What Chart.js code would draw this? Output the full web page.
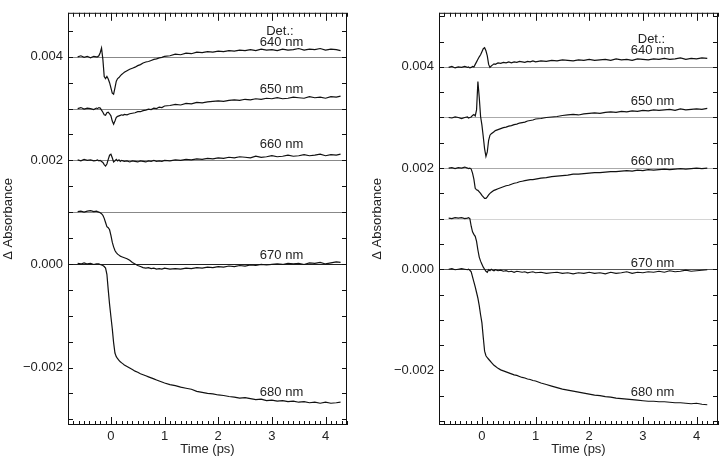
<!DOCTYPE html>
<html>
<head>
<meta charset="utf-8">
<title>Δ Absorbance traces</title>
<script src="https://cdn.jsdelivr.net/npm/chart.js@4.4.1/dist/chart.umd.min.js"></script>
<style>
  html, body { margin: 0; padding: 0; background: #fff; }
  .wrap { position: absolute; top: 0; width: 360px; height: 458px; }
  #leftWrap { left: 0; }
  #rightWrap { left: 360px; }
</style>
</head>
<body>
<div class="wrap" id="leftWrap"><canvas id="leftChart"></canvas></div>
<div class="wrap" id="rightWrap"><canvas id="rightChart"></canvas></div>
<script>
// time axis (ps), shared by every trace
const time = [
  -0.62, -0.56, -0.50, -0.44, -0.38, -0.32, -0.27,
  -0.25, -0.225, -0.20, -0.175, -0.15, -0.125, -0.10, -0.075, -0.05, -0.025, 0, 0.025, 0.05, 0.075, 0.10, 0.125, 0.15, 0.175, 0.20, 0.225, 0.25,
  0.30, 0.35, 0.40, 0.45, 0.50, 0.55, 0.60, 0.65, 0.70, 0.75, 0.80, 0.85, 0.90, 0.95, 1.00,
  1.1, 1.2, 1.3, 1.4, 1.5, 1.6, 1.7, 1.8, 1.9, 2.0, 2.1, 2.2, 2.3, 2.4, 2.5, 2.6, 2.7, 2.8, 2.9, 3.0,
  3.1, 3.2, 3.3, 3.4, 3.5, 3.6, 3.7, 3.8, 3.9, 4.0, 4.1, 4.2, 4.28
];

const wavelengths = ['640 nm', '650 nm', '660 nm', '670 nm', '680 nm'];
const baselines = [0.004, 0.003, 0.002, 0.001, 0.000];
const xTickValues = [0, 1, 2, 3, 4];
const yTickValues = [-0.002, 0, 0.002, 0.004];

// left panel, values in mOD (offset traces)
const left640 = [
  4.00, 4.02, 3.99, 4.01, 3.98, 4.01, 4.00,
  4.00, 4.02, 4.08, 4.17, 3.95, 3.62, 3.58, 3.62, 3.57, 3.50, 3.40, 3.30, 3.28, 3.40, 3.53, 3.58, 3.60, 3.63, 3.66, 3.68, 3.70,
  3.73, 3.76, 3.78, 3.80, 3.83, 3.85, 3.88, 3.90, 3.91, 3.93, 3.95, 3.96, 3.98, 3.99, 4.01,
  4.02, 4.05, 4.04, 4.07, 4.06, 4.09, 4.08, 4.10, 4.09, 4.11, 4.10, 4.12, 4.11, 4.13, 4.12, 4.14, 4.12, 4.15, 4.13, 4.14,
  4.12, 4.15, 4.13, 4.14, 4.16, 4.13, 4.15, 4.14, 4.16, 4.13, 4.15, 4.14, 4.12
];
const left650 = [
  3.00, 3.02, 2.99, 3.01, 3.00, 2.98, 3.01,
  3.00, 3.02, 3.01, 2.97, 2.93, 2.88, 2.87, 2.92, 2.93, 2.90, 2.86, 2.76, 2.70, 2.76, 2.83, 2.85, 2.86, 2.87, 2.88, 2.87, 2.89,
  2.88, 2.90, 2.91, 2.92, 2.94, 2.94, 2.96, 2.97, 2.99, 2.98, 3.01, 3.00, 3.03, 3.02, 3.05,
  3.06, 3.08, 3.07, 3.10, 3.09, 3.12, 3.11, 3.13, 3.14, 3.15, 3.14, 3.16, 3.17, 3.16, 3.18, 3.17, 3.19, 3.18, 3.20, 3.19,
  3.21, 3.19, 3.20, 3.22, 3.21, 3.20, 3.23, 3.21, 3.22, 3.20, 3.23, 3.22, 3.24
];
const left660 = [
  2.01, 1.99, 2.02, 2.00, 2.01, 1.99, 2.00,
  2.01, 1.99, 2.00, 1.98, 1.96, 1.92, 1.89, 1.93, 2.02, 2.10, 2.12, 2.05, 1.97, 1.99, 2.02, 1.99, 2.01, 1.98, 2.00, 1.99, 1.98,
  1.99, 1.97, 1.99, 1.98, 1.97, 1.99, 1.98, 1.97, 1.99, 1.98, 2.00, 1.98, 1.99, 1.98, 2.00,
  1.99, 2.01, 2.00, 2.02, 2.01, 2.03, 2.02, 2.04, 2.03, 2.05, 2.04, 2.06, 2.05, 2.07, 2.06, 2.05, 2.08, 2.06, 2.07, 2.09,
  2.07, 2.08, 2.10, 2.08, 2.09, 2.11, 2.09, 2.10, 2.12, 2.09, 2.11, 2.10, 2.12
];
const left670 = [
  1.01, 1.02, 1.00, 1.02, 1.03, 1.01, 1.02,
  1.01, 1.00, 0.99, 0.97, 0.94, 0.88, 0.80, 0.72, 0.70, 0.66, 0.55, 0.42, 0.33, 0.26, 0.22, 0.19, 0.17, 0.15, 0.14, 0.13, 0.12,
  0.10, 0.07, 0.03, 0.00, -0.03, -0.05, -0.07, -0.08, -0.07, -0.09, -0.08, -0.10, -0.09, -0.10, -0.08,
  -0.10, -0.09, -0.10, -0.08, -0.09, -0.07, -0.08, -0.06, -0.07, -0.05, -0.06, -0.04, -0.05, -0.03, -0.04, -0.02, -0.03, -0.01, -0.02, -0.01,
  0.00, -0.01, 0.01, 0.00, 0.01, -0.01, 0.02, 0.01, 0.03, 0.00, 0.02, 0.04, 0.03
];
const left680 = [
  0.01, 0.00, 0.02, 0.00, 0.01, -0.01, 0.00,
  0.00, 0.00, -0.01, -0.02, -0.03, -0.05, -0.08, -0.20, -0.50, -0.78, -1.02, -1.25, -1.52, -1.72, -1.79, -1.83, -1.86, -1.89, -1.91, -1.93, -1.95,
  -1.98, -2.01, -2.04, -2.07, -2.09, -2.12, -2.14, -2.16, -2.18, -2.20, -2.22, -2.24, -2.26, -2.28, -2.30,
  -2.33, -2.35, -2.38, -2.40, -2.42, -2.46, -2.48, -2.50, -2.51, -2.53, -2.54, -2.56, -2.57, -2.59, -2.58, -2.60, -2.62, -2.61, -2.64, -2.63,
  -2.65, -2.64, -2.66, -2.65, -2.67, -2.66, -2.68, -2.67, -2.69, -2.67, -2.69, -2.68, -2.67
];

// right panel, values in mOD (traces stop at 4.2 ps)
const right640 = [
  3.99, 4.01, 3.98, 4.00, 3.99, 4.01, 3.99,
  4.00, 3.98, 3.99, 4.01, 4.00, 4.05, 4.10, 4.15, 4.20, 4.24, 4.30, 4.36, 4.38, 4.32, 4.22, 4.05, 3.99, 4.02, 4.04, 4.06, 4.05,
  4.08, 4.07, 4.09, 4.08, 4.10, 4.08, 4.10, 4.09, 4.11, 4.10, 4.09, 4.11, 4.10, 4.12, 4.10,
  4.12, 4.11, 4.13, 4.12, 4.14, 4.13, 4.12, 4.14, 4.13, 4.15, 4.13, 4.14, 4.15, 4.13, 4.16, 4.14, 4.15, 4.13, 4.16, 4.15,
  4.14, 4.16, 4.15, 4.17, 4.15, 4.16, 4.18, 4.15, 4.17, 4.16, 4.18, 4.17
];
const right650 = [
  3.00, 2.99, 3.01, 3.00, 2.98, 3.00, 3.01,
  2.99, 3.00, 3.01, 3.04, 3.06, 3.03, 3.15, 3.71, 3.40, 3.02, 2.85, 2.62, 2.38, 2.23, 2.32, 2.55, 2.65, 2.68, 2.70, 2.72, 2.74,
  2.76, 2.78, 2.80, 2.81, 2.83, 2.84, 2.86, 2.87, 2.89, 2.90, 2.91, 2.93, 2.94, 2.95, 2.97,
  2.98, 3.00, 3.01, 3.02, 3.04, 3.05, 3.06, 3.05, 3.07, 3.08, 3.09, 3.08, 3.10, 3.11, 3.10, 3.12, 3.11, 3.13, 3.12, 3.14,
  3.13, 3.15, 3.14, 3.15, 3.16, 3.14, 3.17, 3.15, 3.16, 3.17, 3.16, 3.18
];
const right660 = [
  2.00, 2.01, 1.99, 2.01, 2.00, 2.02, 2.00,
  1.99, 2.00, 1.98, 1.90, 1.78, 1.60, 1.57, 1.56, 1.53, 1.50, 1.46, 1.43, 1.40, 1.40, 1.43, 1.47, 1.50, 1.52, 1.54, 1.56, 1.57,
  1.59, 1.61, 1.63, 1.65, 1.66, 1.68, 1.70, 1.71, 1.73, 1.74, 1.75, 1.76, 1.77, 1.77, 1.78,
  1.80, 1.81, 1.83, 1.84, 1.85, 1.86, 1.88, 1.88, 1.89, 1.90, 1.91, 1.91, 1.92, 1.93, 1.93, 1.94, 1.95, 1.94, 1.96, 1.95,
  1.97, 1.96, 1.97, 1.98, 1.97, 1.98, 1.99, 1.98, 1.99, 2.00, 1.99, 2.00
];
const right670 = [
  1.01, 1.00, 1.02, 1.01, 1.02, 1.00, 1.01,
  1.02, 1.00, 0.85, 0.74, 0.69, 0.65, 0.55, 0.38, 0.24, 0.16, 0.10, 0.04, 0.00, -0.04, -0.06, -0.01, -0.03, 0.00, -0.02, -0.03, -0.01,
  -0.03, -0.02, -0.04, -0.03, -0.05, -0.04, -0.06, -0.04, -0.05, -0.06, -0.05, -0.07, -0.06, -0.05, -0.07,
  -0.06, -0.08, -0.07, -0.06, -0.08, -0.07, -0.09, -0.07, -0.08, -0.06, -0.08, -0.07, -0.09, -0.06, -0.08, -0.07, -0.05, -0.08, -0.06, -0.07,
  -0.05, -0.06, -0.04, -0.06, -0.03, -0.05, -0.04, -0.02, -0.04, -0.03, -0.02, -0.01
];
const right680 = [
  0.00, 0.01, -0.01, 0.00, 0.01, 0.00, -0.01,
  0.00, -0.02, -0.05, -0.15, -0.25, -0.35, -0.46, -0.57, -0.72, -0.90, -1.06, -1.35, -1.62, -1.71, -1.75, -1.78, -1.81, -1.84, -1.87, -1.90, -1.92,
  -1.96, -1.99, -2.01, -2.03, -2.05, -2.07, -2.09, -2.10, -2.12, -2.14, -2.15, -2.17, -2.18, -2.20, -2.21,
  -2.25, -2.28, -2.31, -2.34, -2.37, -2.39, -2.41, -2.43, -2.45, -2.47, -2.49, -2.50, -2.52, -2.53, -2.55, -2.56, -2.57, -2.58, -2.59, -2.60,
  -2.61, -2.61, -2.62, -2.62, -2.63, -2.64, -2.64, -2.65, -2.66, -2.65, -2.67, -2.68
];

Chart.defaults.font.family = '"Liberation Sans", Arial, Helvetica, sans-serif';
Chart.defaults.font.size = 13;
Chart.defaults.color = '#222';

// frame, inward ticks, baselines and wavelength labels
const panelDecor = {
  id: 'panelDecor',
  beforeDatasetsDraw(chart, args, opts) {
    const { ctx, chartArea: a, scales: { y } } = chart;
    ctx.save();
    ctx.lineWidth = 1;
    baselines.forEach((b, i) => {
      const py = Math.round(y.getPixelForValue(b)) + 0.5;
      ctx.strokeStyle = opts.lineColors[i];
      ctx.beginPath();
      ctx.moveTo(a.left, py);
      ctx.lineTo(a.right, py);
      ctx.stroke();
    });
    ctx.restore();
  },
  afterDatasetsDraw(chart, args, opts) {
    const { ctx, chartArea: a, scales: { x, y } } = chart;
    ctx.save();
    ctx.strokeStyle = '#111';
    ctx.lineWidth = 1;
    ctx.strokeRect(a.left + 0.5, a.top + 0.5, a.right - a.left - 1, a.bottom - a.top - 1);
    ctx.beginPath();
    for (let k = Math.ceil(x.min * 10); k <= Math.floor(x.max * 10); k++) {
      const px = Math.round(x.getPixelForValue(k / 10)) + 0.5;
      const len = k % 10 === 0 ? 8 : 4;
      ctx.moveTo(px, a.bottom);
      ctx.lineTo(px, a.bottom - len);
      ctx.moveTo(px, a.top);
      ctx.lineTo(px, a.top + len);
    }
    for (let k = Math.ceil(y.min / 0.0005); k <= Math.floor(y.max / 0.0005); k++) {
      const py = Math.round(y.getPixelForValue(k * 0.0005)) + 0.5;
      ctx.moveTo(a.left, py);
      ctx.lineTo(a.left + 5, py);
      ctx.moveTo(a.right, py);
      ctx.lineTo(a.right - 5, py);
    }
    ctx.stroke();

    ctx.fillStyle = '#222';
    ctx.font = '13px "Liberation Sans", Arial, sans-serif';
    ctx.textAlign = 'center';
    ctx.textBaseline = 'middle';
    opts.labels.forEach(l => {
      ctx.fillText(l.text, x.getPixelForValue(l.x), y.getPixelForValue(l.y));
    });
    ctx.restore();
  }
};

function fmtAbs(v) {
  return (v < 0 ? '\u2212' : '') + Math.abs(v).toFixed(3);
}

function makePanel(canvasId, traces, p) {
  const datasets = traces.map((vals, i) => ({
    label: wavelengths[i],
    data: vals.map((v, j) => ({ x: time[j], y: v / 1000 })),
    borderColor: '#111',
    borderWidth: 1.2,
    pointRadius: 0,
    fill: false,
    tension: 0
  }));

  const config = {
    type: 'line',
    data: { datasets },
    options: {
      responsive: true,
      maintainAspectRatio: false,
      animation: false,
      layout: { padding: { top: p.top, right: p.right, bottom: 0, left: 0 } },
      scales: {
        x: {
          type: 'linear',
          min: -0.8,
          max: 4.4,
          afterBuildTicks: s => { s.ticks = xTickValues.map(v => ({ value: v })); },
          afterFit: s => { s.height = 33; },
          grid: { display: false, drawTicks: false },
          border: { display: false },
          ticks: { padding: 4, color: '#222' },
          title: { display: true, text: 'Time (ps)', color: '#222', padding: { top: 0, bottom: 1 } }
        },
        y: {
          min: p.yMin,
          max: p.yMax,
          afterBuildTicks: s => { s.ticks = yTickValues.map(v => ({ value: v })); },
          afterFit: s => { s.width = p.axisWidth; },
          grid: { display: false, drawTicks: false },
          border: { display: false },
          ticks: { padding: 5, color: '#222', callback: v => fmtAbs(v) },
          title: { display: true, text: 'Δ Absorbance', color: '#222', padding: { top: p.titlePad, bottom: 0 } }
        }
      },
      plugins: {
        legend: { display: false },
        tooltip: { enabled: false },
        panelDecor: { lineColors: p.lineColors, labels: p.labels }
      }
    },
    plugins: [panelDecor]
  };

  const ctx = document.getElementById(canvasId);
  if (ctx) new Chart(ctx, config);
}

document.addEventListener('DOMContentLoaded', function () {

  makePanel('leftChart', [left640, left650, left660, left670, left680], {
    top: 2, right: 13, axisWidth: 68, titlePad: 1,
    yMin: -0.00311, yMax: 0.00485,
    lineColors: ['#888', '#888', '#888', '#888', '#222'],
    labels: [
      { text: 'Det.:', x: 3.15, y: 0.00449 },
      { text: wavelengths[0], x: 3.18, y: 0.00428 },
      { text: wavelengths[1], x: 3.18, y: 0.00337 },
      { text: wavelengths[2], x: 3.18, y: 0.00230 },
      { text: wavelengths[3], x: 3.18, y: 0.00017 },
      { text: wavelengths[4], x: 3.18, y: -0.00248 }
    ]
  });

  makePanel('rightChart', [right640, right650, right660, right670, right680], {
    top: 3, right: 2, axisWidth: 79, titlePad: 10,
    yMin: -0.00308, yMax: 0.00507,
    lineColors: ['#999', '#aaa', '#aaa', '#d4d4d4', '#555'],
    labels: [
      { text: 'Det.:', x: 3.16, y: 0.00455 },
      { text: wavelengths[0], x: 3.18, y: 0.00432 },
      { text: wavelengths[1], x: 3.18, y: 0.00331 },
      { text: wavelengths[2], x: 3.18, y: 0.00213 },
      { text: wavelengths[3], x: 3.18, y: 0.00011 },
      { text: wavelengths[4], x: 3.18, y: -0.00243 }
    ]
  });

});
</script>
</body>
</html>
